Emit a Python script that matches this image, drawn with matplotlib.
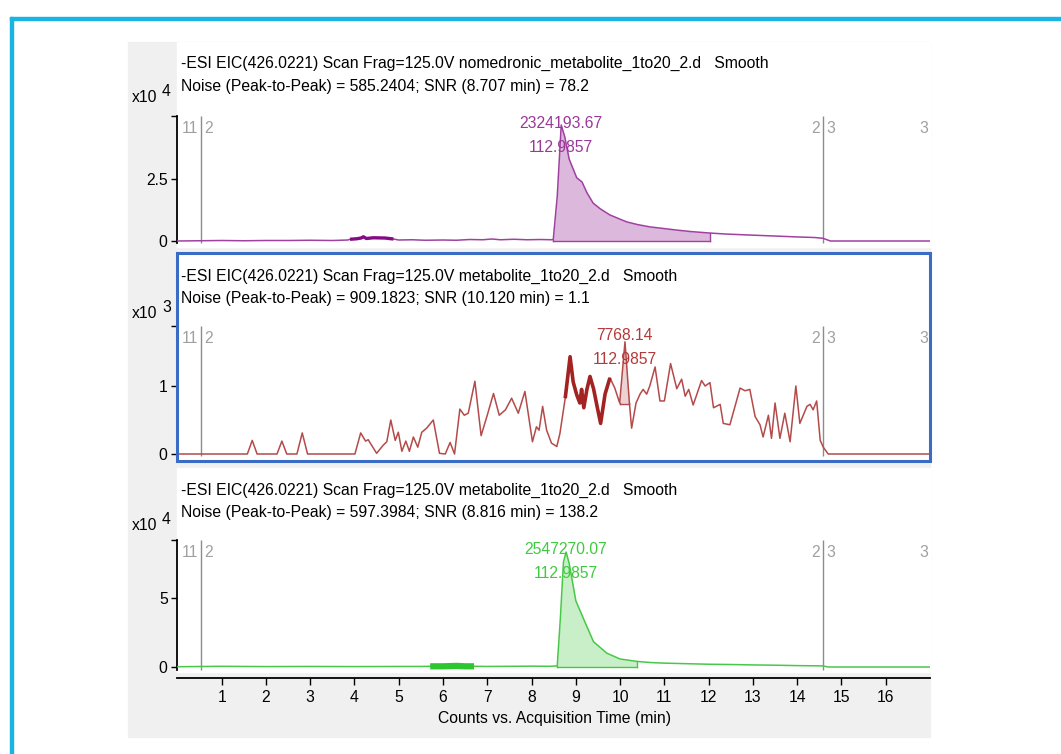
import matplotlib

matplotlib.use("Agg")
import matplotlib.pyplot as plt
from matplotlib import font_manager
from matplotlib.patches import Rectangle
import numpy as np

W, H = 1061, 754

# ---- data (time in min, counts in the panel's x10^n unit)
t1 = [0, 0.5, 1.0, 1.5, 2.0, 2.5, 3.0, 3.5, 3.85, 3.9,
      4.05, 4.15, 4.2, 4.27, 4.42, 4.69, 4.88, 5.0, 5.3, 5.6,
      6.0, 6.3, 6.6, 6.9, 7.1, 7.3, 7.6, 7.9, 8.2, 8.45,
      8.49, 8.58, 8.67, 8.75, 8.85, 9.02, 9.14, 9.25, 9.39, 9.55,
      9.77, 10.0, 10.15, 10.4, 10.67, 11.0, 11.28, 11.6, 12.03, 12.4,
      12.93, 13.5, 14.06, 14.4, 14.58, 14.75, 17.0]
v1 = [0.0, 0.01, 0.02, 0.01, 0.02, 0.02, 0.03, 0.02, 0.04, 0.07,
      0.09, 0.12, 0.17, 0.10, 0.13, 0.12, 0.08, 0.04, 0.05, 0.03,
      0.04, 0.03, 0.06, 0.05, 0.08, 0.05, 0.07, 0.05, 0.06, 0.05,
      0.06, 1.80, 4.68, 4.20, 3.30, 2.55, 2.38, 1.95, 1.53, 1.30,
      1.05, 0.88, 0.77, 0.66, 0.57, 0.50, 0.44, 0.38, 0.32, 0.28,
      0.24, 0.20, 0.16, 0.14, 0.11, 0.0, 0.0]

t2 = [0, 1.58, 1.69, 1.8, 2.25, 2.36, 2.47, 2.7, 2.82, 2.94,
      4.01, 4.14, 4.25, 4.31, 4.5, 4.65, 4.73, 4.82, 4.92, 4.99,
      5.07, 5.16, 5.24, 5.33, 5.43, 5.52, 5.63, 5.78, 5.92, 6.05,
      6.16, 6.26, 6.38, 6.48, 6.57, 6.72, 6.86, 6.99, 7.14, 7.27,
      7.41, 7.55, 7.70, 7.85, 8.02, 8.11, 8.17, 8.25, 8.34, 8.45,
      8.57, 8.64, 8.76, 8.87, 8.94, 9.02, 9.09, 9.13, 9.18, 9.25,
      9.32, 9.40, 9.48, 9.56, 9.66, 9.77, 9.88, 9.99, 10.11, 10.21,
      10.26, 10.36, 10.45, 10.52, 10.60, 10.67, 10.79, 10.90, 11.00, 11.14,
      11.28, 11.39, 11.47, 11.55, 11.65, 11.84, 11.92, 12.03, 12.11, 12.26,
      12.33, 12.48, 12.71, 12.82, 12.93, 13.05, 13.16, 13.23, 13.35, 13.42,
      13.50, 13.61, 13.72, 13.84, 13.97, 14.06, 14.22, 14.29, 14.36, 14.44,
      14.52, 14.59, 14.70, 17.0]
v2 = [0, 0, 0.20, 0, 0, 0.19, 0, 0, 0.31, 0,
      0, 0.31, 0.19, 0.21, 0.01, 0.13, 0.18, 0.50, 0.20, 0.32,
      0.04, 0.19, 0.04, 0.25, 0.10, 0.32, 0.38, 0.50, 0.01, 0.0,
      0.17, 0.0, 0.66, 0.57, 0.60, 1.07, 0.27, 0.55, 0.89, 0.57,
      0.65, 0.82, 0.60, 0.92, 0.18, 0.40, 0.35, 0.70, 0.35, 0.16,
      0.11, 0.30, 0.82, 1.43, 1.06, 0.87, 0.75, 0.95, 0.68, 0.95,
      1.14, 0.96, 0.70, 0.45, 0.88, 1.12, 0.97, 0.75, 1.65, 0.75,
      0.38, 0.75, 0.88, 0.95, 0.88, 1.00, 1.28, 0.78, 0.78, 1.33,
      0.96, 1.10, 0.85, 0.95, 0.72, 1.08, 1.00, 1.05, 0.68, 0.73,
      0.45, 0.43, 0.97, 0.93, 0.95, 0.55, 0.43, 0.25, 0.57, 0.23,
      0.75, 0.23, 0.60, 0.18, 1.00, 0.45, 0.70, 0.73, 0.65, 0.78,
      0.20, 0.10, 0.0, 0.0]

t3 = [0, 1, 2, 3, 4, 5, 5.5, 5.71, 6.0, 6.31,
      6.5, 6.70, 7.0, 7.5, 8.0, 8.4, 8.58, 8.65, 8.72, 8.78,
      8.85, 9.0, 9.2, 9.4, 9.7, 10.0, 10.39, 10.7, 11.0, 11.5,
      12.0, 12.5, 13.0, 13.5, 14.0, 14.58, 14.7, 17]
v3 = [0.02, 0.05, 0.03, 0.04, 0.03, 0.04, 0.04, 0.05, 0.05, 0.08,
      0.05, 0.05, 0.04, 0.05, 0.06, 0.05, 0.08, 3.50, 7.60, 8.33,
      7.50, 4.80, 3.30, 1.83, 1.00, 0.58, 0.40, 0.32, 0.28, 0.24,
      0.20, 0.18, 0.15, 0.13, 0.10, 0.08, 0.0, 0.0]

headers = [
    ("-ESI EIC(426.0221) Scan Frag=125.0V nomedronic_metabolite_1to20_2.d   Smooth",
     "Noise (Peak-to-Peak) = 585.2404; SNR (8.707 min) = 78.2"),
    ("-ESI EIC(426.0221) Scan Frag=125.0V metabolite_1to20_2.d   Smooth",
     "Noise (Peak-to-Peak) = 909.1823; SNR (10.120 min) = 1.1"),
    ("-ESI EIC(426.0221) Scan Frag=125.0V metabolite_1to20_2.d   Smooth",
     "Noise (Peak-to-Peak) = 597.3984; SNR (8.816 min) = 138.2"),
]
exponents = ["4", "3", "4"]
y_ticks = [[0, 2.5], [0, 1], [0, 5]]
y_tops = [5.04, 1.88, 9.2]
peak_labels = [("2324193.67", "112.9857"), ("7768.14", "112.9857"), ("2547270.07", "112.9857")]
peak_times = [8.67, 10.11, 8.78]
integration = [(8.49, 12.03, 0.0), (9.99, 10.21, 0.74), (8.58, 10.39, 0.0)]
bold_ranges = [(3.9, 4.88), (8.76, 9.77), (5.71, 6.70)]
marker_times = [0.53, 14.58]
x_ticks = list(range(1, 17))

# panel pixel geometry: top, bottom, zero line, px per unit
panels = [
    dict(top=42, bottom=247, zero=241, scale=24.8),
    dict(top=253, bottom=461, zero=454, scale=68.0),
    dict(top=468, bottom=678, zero=667, scale=13.8),
]
header_y = [(63, 86), (276, 299), (490, 512)]
x10_y = [98, 313, 525]
label_off = [(123, 148), (336, 360), (549, 573)]
styles = [
    dict(line="#a040a0", bold="#850a85", fill="#dcb8dc", text="#9a389a", bold_lw=2.4),
    dict(line="#b44a4a", bold="#a32222", fill="#ecd2d2", text="#b23a3a", bold_lw=2.6),
    dict(line="#48c848", bold="#2ec62e", fill="#c8efc8", text="#3fca3f", bold_lw=4.5),
]

narrow = "Liberation Sans Narrow"
names = {f.name for f in font_manager.fontManager.ttflist}
FONT = narrow if narrow in names else "Liberation Sans"
plt.rcParams["font.family"] = [FONT, "DejaVu Sans"]
FS = 11.3

X0, X1 = 177.4, 930.0


def fx(x):
    return x / W


def fy(y):
    return 1 - y / H


fig = plt.figure(figsize=(W / 100, H / 100), dpi=100)
fig.patch.set_facecolor("white")

# outer cyan frame
fig.patches.append(Rectangle((fx(10), 0), fx(3), fy(17), transform=fig.transFigure,
                             color="#1ab4e4", zorder=0))
fig.patches.append(Rectangle((fx(10), fy(20)), 1, 3 / H, transform=fig.transFigure,
                             color="#1ab4e4", zorder=0))
# grey window
fig.patches.append(Rectangle((fx(128), fy(737)), fx(930 - 128), (737 - 42) / H,
                             transform=fig.transFigure, color="#f0f0f0", zorder=0))

series = [(t1, v1), (t2, v2), (t3, v3)]
white_bottom = [247, 461, 672]

for i, p in enumerate(panels):
    st = styles[i]
    fig.patches.append(Rectangle((fx(X0), fy(white_bottom[i])), fx(X1 - X0),
                                 (white_bottom[i] - p["top"]) / H,
                                 transform=fig.transFigure, color="white", zorder=0))
    ax = fig.add_axes([fx(X0), fy(p["bottom"]), fx(X1 - X0), (p["bottom"] - p["top"]) / H])
    ax.set_zorder(1)
    ax.patch.set_alpha(0)
    ax.set_xlim(0, 17)
    lo = -(p["bottom"] - p["zero"]) / p["scale"]
    hi = (p["zero"] - p["top"]) / p["scale"]
    ax.set_ylim(lo, hi)
    for s in ("top", "right"):
        ax.spines[s].set_visible(False)
    ax.spines["left"].set_bounds(-0.1 * y_tops[i] / 5, y_tops[i])
    ax.spines["left"].set_linewidth(1.3)
    ax.set_yticks(y_ticks[i] + [y_tops[i]])
    ax.set_yticklabels([f"{v:g}" for v in y_ticks[i]] + [""], fontsize=FS)
    ax.tick_params(axis="y", direction="out", length=4, width=1, pad=3)
    if i < 2:
        ax.spines["bottom"].set_visible(False)
        ax.set_xticks([])
    else:
        ax.spines["bottom"].set_linewidth(1.3)
        ax.set_xticks(x_ticks)
        ax.set_xticklabels([str(v) for v in x_ticks], fontsize=FS)
        ax.tick_params(axis="x", direction="out", length=5, width=1, pad=4)

    t = np.array(series[i][0])
    v = np.array(series[i][1])
    a, b, base = integration[i]
    m = (t >= a) & (t <= b)
    ax.fill_between(t[m], base, v[m], color=st["fill"], lw=0, zorder=2)
    ax.plot([a, a], [base, v[m][0]], color=st["line"], lw=1.0, zorder=3)
    ax.plot([b, b], [base, v[m][-1]], color=st["line"], lw=1.0, zorder=3)
    ax.plot([a, b], [base, base], color=st["line"], lw=1.0, zorder=3)
    ax.plot(t, v, color=st["line"], lw=1.1, zorder=3, solid_joinstyle="round")
    r0, r1 = bold_ranges[i]
    mb = (t >= r0) & (t <= r1)
    ax.plot(t[mb], v[mb], color=st["bold"], lw=st["bold_lw"], zorder=4,
            solid_capstyle="butt")

    # markers
    for mt in marker_times:
        ax.vlines(mt, lo * 0.3, y_tops[i], color="#8c8c8c", lw=1.0, zorder=1)
    ly = y_tops[i] - 12 / p["scale"]
    ax.text(marker_times[0] - 0.07, ly, "11", color="#a0a0a0", fontsize=FS, ha="right", va="center")
    ax.text(marker_times[0] + 0.07, ly, "2", color="#a0a0a0", fontsize=FS, ha="left", va="center")
    ax.text(marker_times[1] - 0.07, ly, "2", color="#a0a0a0", fontsize=FS, ha="right", va="center")
    ax.text(marker_times[1] + 0.07, ly, "3", color="#a0a0a0", fontsize=FS, ha="left", va="center")
    ax.text(16.95, ly, "3", color="#a0a0a0", fontsize=FS, ha="right", va="center")

    # peak labels
    y_a, y_b = label_off[i]
    ax.text(peak_times[i], (p["zero"] - y_a) / p["scale"], peak_labels[i][0],
            color=st["text"], fontsize=FS, ha="center", va="center", zorder=5)
    ax.text(peak_times[i], (p["zero"] - y_b) / p["scale"], peak_labels[i][1],
            color=st["text"], fontsize=FS, ha="center", va="center", zorder=5)

    # headers and exponent label
    fig.text(fx(181), fy(header_y[i][0]), headers[i][0], fontsize=FS, va="center")
    fig.text(fx(181), fy(header_y[i][1]), headers[i][1], fontsize=FS, va="center")
    fig.text(fx(132), fy(x10_y[i]), "x10", fontsize=FS, va="center")
    fig.text(fx(162), fy(x10_y[i] - 6), exponents[i], fontsize=FS, va="center")

# selected panel frame
fig.patches.append(Rectangle((fx(X0), fy(461)), fx(X1 - X0), (461 - 253) / H,
                             transform=fig.transFigure, fill=False, edgecolor="#3a6cc6",
                             lw=2.2, zorder=5))

fig.text(fx(555), fy(718), "Counts vs. Acquisition Time (min)", fontsize=FS, ha="center", va="center")

fig.savefig("out.png", dpi=100)
